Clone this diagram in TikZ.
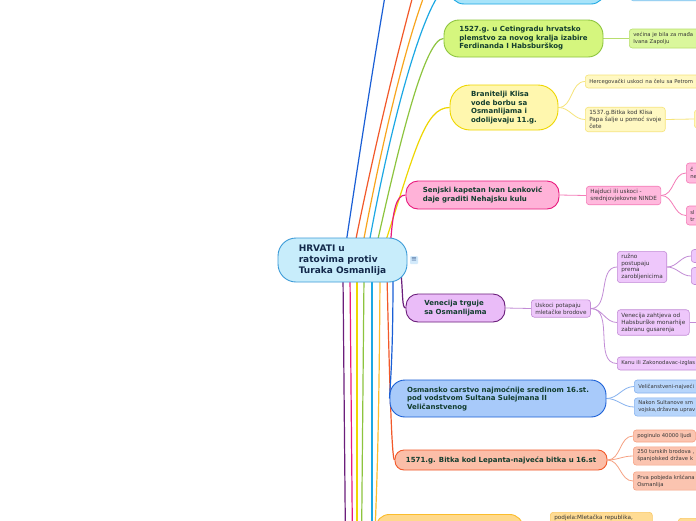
\documentclass[tikz,border=0pt]{standalone}
\usepackage{fontspec}
\setmainfont{DejaVu Sans}
\usetikzlibrary{backgrounds}
\definecolor{rootfill}{HTML}{C8EDFB}
\definecolor{rootline}{HTML}{3C9BD8}
\definecolor{roottext}{HTML}{13294B}
\definecolor{topictext}{HTML}{123D2E}
\definecolor{leaftext}{HTML}{363636}
\definecolor{menufill}{HTML}{D3EAFB}
\definecolor{menutext}{HTML}{45679A}
\definecolor{bluebr}{HTML}{1A5FD6}
\definecolor{redbr}{HTML}{F2592A}
\definecolor{orangebr}{HTML}{F8A51D}
\definecolor{cyanbr}{HTML}{1CA8E4}
\definecolor{greenbr}{HTML}{8DC43E}
\definecolor{yellowbr}{HTML}{EED600}
\definecolor{pinkbr}{HTML}{E8197D}
\definecolor{purplebr}{HTML}{6B1E7B}
\definecolor{goldbr}{HTML}{FBBD2C}
\definecolor{cyanfill}{HTML}{A8E4FA}
\definecolor{cyanleaf}{HTML}{B3DDF8}
\definecolor{cyanleafline}{HTML}{7FC6EE}
\definecolor{greenfill}{HTML}{D5F67E}
\definecolor{greenleaf}{HTML}{DAF79C}
\definecolor{greenleafline}{HTML}{B8DE6E}
\definecolor{yellowfill}{HTML}{FFF7AE}
\definecolor{yellowleaf}{HTML}{FFF8C2}
\definecolor{yellowleafline}{HTML}{F6E47A}
\definecolor{pinkfill}{HTML}{FFB2D8}
\definecolor{pinkleaf}{HTML}{FFB9DD}
\definecolor{pinkleafline}{HTML}{F47CB8}
\definecolor{purplefill}{HTML}{EABCF8}
\definecolor{purpleleaf}{HTML}{EEC7FB}
\definecolor{purpleleafline}{HTML}{C28CD6}
\definecolor{bluefill}{HTML}{A8CAFA}
\definecolor{blueleaf}{HTML}{B7D5FB}
\definecolor{blueleafline}{HTML}{86B2EF}
\definecolor{redfill}{HTML}{FBBEA8}
\definecolor{redleaf}{HTML}{FBC4B0}
\definecolor{redleafline}{HTML}{F6A283}
\definecolor{goldfill}{HTML}{FFD98B}
\definecolor{goldleaf}{HTML}{FFDC94}
\definecolor{goldleafline}{HTML}{F9C866}
\begin{document}
\begin{tikzpicture}[x=1pt,y=-1pt,
    root/.style={draw=rootline,fill=rootfill,line width=0.9pt,rounded corners=18pt,
        text=roottext,font=\fontsize{9}{11}\selectfont\bfseries,align=left,
        minimum width=129pt,minimum height=44pt},
    menu/.style={fill=menufill,text=menutext,rounded corners=1pt,inner sep=0.8pt,
        font=\fontsize{7}{7}\selectfont,minimum size=8pt},
    topic/.style={line width=0.9pt,text=topictext,font=\fontsize{7}{8.5}\selectfont\bfseries,
        align=left,inner sep=2pt},
    leaf/.style={line width=0.6pt,rounded corners=3pt,text=leaftext,
        font=\fontsize{5.7}{7}\selectfont,align=left,inner xsep=4pt,inner ysep=3pt},
    edgeleaf/.style={leaf,font=\fontsize{5.3}{7}\selectfont},
    branch/.style={line width=1.2pt},
    twig/.style={line width=0.8pt}]
            \useasboundingbox (0,0) rectangle (696,520);
            \node[root] (a) at (342.5,260) {HRVATI u\\ratovima protiv\\Turaka Osmanlija};
            \node[menu] (m) at (414,260) {≡};
            \node[topic,fill=cyanfill,draw=cyanbr,rounded corners=14pt,minimum width=155pt,minimum height=36pt] (top) at (527.5,-14) {};
            \node[leaf,fill=cyanleaf,draw=cyanleafline,anchor=south west,minimum width=80pt,minimum height=14pt] (top1) at (630,1) {};
            \node[topic,fill=greenfill,draw=greenbr,rounded corners=15pt,minimum width=159pt,minimum height=37pt] (cet) at (523.5,38.5) {1527.g. u Cetingradu hrvatsko\\plemstvo za novog kralja izabire\\Ferdinanda I Habsburškog};
            \node[topic,fill=yellowfill,draw=yellowbr,rounded corners=20pt,minimum width=108pt,minimum height=45pt] (kli) at (504,107.5) {Branitelji Klisa\\vode borbu sa\\Osmanlijama i\\odolijevaju 11.g.};
            \node[topic,fill=pinkfill,draw=pinkbr,rounded corners=12pt,minimum width=153pt,minimum height=28pt] (sen) at (482.5,195) {Senjski kapetan Ivan Lenković\\daje graditi Nehajsku kulu};
            \node[topic,fill=purplefill,draw=purplebr,rounded corners=12pt,minimum width=99pt,minimum height=28pt] (ven) at (455.5,308) {Venecija trguje\\sa Osmanlijama};
            \node[topic,fill=bluefill,draw=bluebr,rounded corners=15pt,minimum width=216pt,minimum height=37pt] (osm) at (498,398.5) {Osmansko carstvo najmoćnije sredinom 16.st.\\pod vodstvom Sultana Sulejmana II\\Veličanstvenog};
            \node[topic,fill=redfill,draw=redbr,rounded corners=9pt,minimum width=212pt,minimum height=20pt] (lep) at (501,460) {1571.g. Bitka kod Lepanta-najveća bitka u 16.st};
            \node[topic,fill=goldfill,draw=goldbr,rounded corners=14pt,minimum width=148pt,minimum height=40pt,anchor=north west] (bot) at (375,514) {};
            \node[edgeleaf,fill=greenleaf,draw=greenleafline,anchor=west,text width=80pt,minimum height=19pt] (cet1) at (629,38.5) {većina je bila za mađa\\Ivana Zapolju};
            \node[edgeleaf,fill=yellowleaf,draw=yellowleafline,anchor=west,text width=130pt,minimum height=13pt] (kli1) at (585,81.5) {Hercegovački uskoci na čelu sa Petrom};
            \node[leaf,fill=yellowleaf,draw=yellowleafline,anchor=west] (kli2) at (585,119.5) {1537.g.Bitka kod Klisa\\Papa šalje u pomoć svoje\\čete};
            \node[leaf,fill=yellowleaf,draw=yellowleafline,anchor=west,minimum width=30pt,minimum height=18pt] (kli3) at (694,119) {};
            \node[leaf,fill=pinkleaf,draw=pinkleafline,anchor=west] (sen1) at (586,195.5) {Hajduci ili uskoci -\\srednjovjekovne NINDE};
            \node[edgeleaf,fill=pinkleaf,draw=pinkleafline,anchor=west,text width=30pt,minimum height=20pt] (sen2) at (686,173) {č\\ne};
            \node[edgeleaf,fill=pinkleaf,draw=pinkleafline,anchor=west,text width=30pt,minimum height=19pt] (sen3) at (686,215.5) {sl\\tr};
            \node[leaf,fill=purpleleaf,draw=purpleleafline,anchor=west] (ven1) at (531,308.5) {Uskoci potapaju\\mletačke brodove};
            \node[leaf,fill=purpleleaf,draw=purpleleafline,anchor=west,font=\fontsize{5.7}{6.5}\selectfont] (ven2) at (617,267) {ružno\\postupaju\\prema\\zarobljenicima};
            \node[leaf,fill=purpleleaf,draw=purpleleafline,anchor=west,minimum width=20pt,minimum height=13pt] (ven3) at (691,256) {};
            \node[leaf,fill=purpleleaf,draw=purpleleafline,anchor=west,minimum width=20pt,minimum height=17pt] (ven4) at (691,276) {};
            \node[leaf,fill=purpleleaf,draw=purpleleafline,anchor=west] (ven5) at (617,322.5) {Venecija zahtjeva od\\Habsburške monarhije\\zabranu gusarenja};
            \node[edgeleaf,fill=purpleleaf,draw=purpleleafline,anchor=west,text width=100pt,minimum height=13pt] (ven6) at (617,363.5) {Kanu ili Zakonodavac-izglas};
            \node[edgeleaf,fill=blueleaf,draw=blueleafline,anchor=west,text width=80pt,minimum height=13pt] (osm1) at (634,386.5) {Veličanstveni-najveći};
            \node[edgeleaf,fill=blueleaf,draw=blueleafline,anchor=west,text width=80pt,minimum height=18pt] (osm2) at (634,407) {Nakon Sultanove sm\\vojska,državna uprav};
            \node[edgeleaf,fill=redleaf,draw=redleafline,anchor=west,minimum height=12pt] (lep1) at (633,436) {poginulo 40000 ljudi};
            \node[edgeleaf,fill=redleaf,draw=redleafline,anchor=west,text width=80pt,minimum height=18pt] (lep2) at (633,456) {250 turskih brodova ,\\španjolsked države k};
            \node[edgeleaf,fill=redleaf,draw=redleafline,anchor=west,text width=80pt,minimum height=18pt] (lep3) at (633,481) {Prva pobjeda kršćana\\Osmanlija};
            \node[leaf,fill=goldleaf,draw=goldleafline,anchor=north west,text width=94pt] (bot1) at (550,512) {podjela:Mletačka republika,};
            \node[leaf,fill=goldleaf,draw=goldleafline,anchor=north west,minimum width=30pt,minimum height=20pt] (bot2) at (678,518) {};
            \coordinate (t1) at (395,-60);
            \coordinate (t2) at (440,-100);
            \coordinate (t3) at (460,-60);
            \coordinate (u1) at (346,600);
            \coordinate (u2) at (353,600);
            \coordinate (u3) at (357,600);
            \coordinate (u4) at (361,600);
            \coordinate (u5) at (372,600);
            \coordinate (vr) at (720,322.5);
            \begin{scope}[on background layer]
            \fill[white] (0,0) rectangle (696,520);
            \draw[branch,bluebr] ([xshift=3.5pt,yshift=-6pt]a.north) .. controls (360,150) and (380,20) .. (t1);
            \draw[branch,redbr] ([xshift=12.5pt,yshift=-6pt]a.north) .. controls (380,120) and (410,0) .. (t2);
            \draw[branch,orangebr] ([xshift=20.5pt,yshift=-6pt]a.north) .. controls (390,100) and (430,-60) .. (t3);
            \draw[branch,cyanbr] ([xshift=26.5pt,yshift=-6pt]a.north) .. controls (395,100) and (430,-14) .. (top.west);
            \draw[branch,greenbr] ([xshift=34.5pt,yshift=-6pt]a.north) .. controls (400,140) and (425,38.5) .. (cet.west);
            \draw[branch,yellowbr] ([xshift=42.5pt,yshift=-6pt]a.north) .. controls (415,150) and (425,107.5) .. (kli.west);
            \draw[branch,pinkbr] ([xshift=48pt,yshift=-6pt]a.north) .. controls (393,210) and (396,195) .. (sen.west);
            \draw[branch,purplebr] ([xshift=0.5pt,yshift=6pt]a.south) -- (u1);
            \draw[branch,pinkbr] ([xshift=7.5pt,yshift=6pt]a.south) -- (u2);
            \draw[branch,yellowbr] ([xshift=14.5pt,yshift=6pt]a.south) -- (u3);
            \draw[branch,greenbr] ([xshift=21.5pt,yshift=6pt]a.south) -- (u4);
            \draw[branch,cyanbr] ([xshift=29.5pt,yshift=6pt]a.south) -- (u5);
            \draw[branch,goldbr] ([xshift=37.5pt,yshift=6pt]a.south) .. controls (379,450) and (376,500) .. (bot.west);
            \draw[branch,redbr] ([xshift=44.5pt,yshift=6pt]a.south) .. controls (390,400) and (392,460) .. (lep.west);
            \draw[branch,bluebr] ([xshift=50.5pt,yshift=6pt]a.south) .. controls (393,360) and (390,385) .. (osm.west);
            \draw[branch,purplebr] ([xshift=58.5pt,yshift=10pt]a.south) .. controls (403,295) and (402,308) .. (ven.west);
            \draw[twig,greenleafline] (cet.east) -- (cet1.west);
            \draw[twig,yellowleafline] (kli.east) to[out=0,in=180] (kli1.west);
            \draw[twig,yellowleafline] (kli.east) to[out=0,in=180] (kli2.west);
            \draw[twig,yellowleafline] (kli2.east) -- (kli3.west);
            \draw[twig,pinkleafline] (sen.east) -- (sen1.west);
            \draw[twig,pinkleafline] (sen1.east) to[out=0,in=180] (sen2.west);
            \draw[twig,pinkleafline] (sen1.east) to[out=0,in=180] (sen3.west);
            \draw[twig,purpleleafline] (ven.east) -- (ven1.west);
            \draw[twig,purpleleafline] (ven1.east) to[out=0,in=180] (ven2.west);
            \draw[twig,purpleleafline] (ven1.east) to[out=0,in=180] (ven5.west);
            \draw[twig,purpleleafline] (ven1.east) to[out=0,in=180] (ven6.west);
            \draw[twig,purpleleafline] (ven2.east) to[out=0,in=180] (ven3.west);
            \draw[twig,purpleleafline] (ven2.east) to[out=0,in=180] (ven4.west);
            \draw[twig,purpleleafline] (ven5.east) -- (vr);
            \draw[twig,blueleafline] (osm.east) to[out=0,in=180] (osm1.west);
            \draw[twig,blueleafline] (osm.east) to[out=0,in=180] (osm2.west);
            \draw[twig,redleafline] (lep.east) to[out=0,in=180] (lep1.west);
            \draw[twig,redleafline] (lep.east) to[out=0,in=180] (lep2.west);
            \draw[twig,redleafline] (lep.east) to[out=0,in=180] (lep3.west);
            \end{scope}
        \end{tikzpicture}
\end{document}
